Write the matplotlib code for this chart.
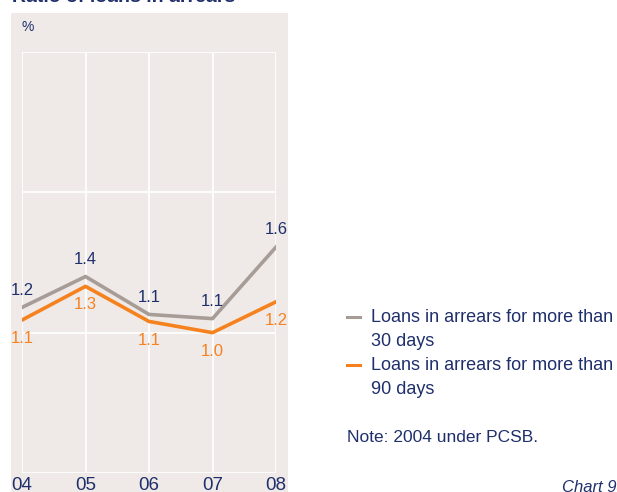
import matplotlib
matplotlib.use("Agg")
import matplotlib.pyplot as plt
from matplotlib.patches import Rectangle
from matplotlib.lines import Line2D

plt.rcParams['font.family'] = ['Liberation Sans', 'DejaVu Sans']

years = ["04", "05", "06", "07", "08"]
arrears_30 = [1.18, 1.40, 1.13, 1.10, 1.61]
arrears_90 = [1.09, 1.33, 1.08, 1.00, 1.22]
series_labels = ["Loans in arrears for more than\n30 days",
                 "Loans in arrears for more than\n90 days"]

NAVY = "#1f2f6b"
GREY = "#a89c96"
ORANGE = "#f5821f"
PANEL = "#efeae8"

fig = plt.figure(figsize=(6.17, 4.92), dpi=100)
W, H = 617, 492


def fx(px):
    return px / W


def fy(py):
    return 1 - py / H


# shaded panel behind the chart
fig.patches.append(Rectangle((fx(11), 0), fx(288 - 11), (H - 13) / H,
                             transform=fig.transFigure, facecolor=PANEL,
                             edgecolor="none", zorder=-10))

fig.text(fx(12), 1.0 + 3 / H, "Ratio of loans in arrears", color=NAVY,
         fontsize=14, fontweight="bold", va="center", ha="left")

ax = fig.add_axes([fx(22), fy(473), fx(276 - 22), (473 - 52) / H])
ax.patch.set_alpha(0)
x = list(range(len(years)))
ax.set_xlim(0, len(years) - 1)
ax.set_ylim(0, 3)
ax.set_yticks([0, 1, 2, 3])
ax.set_xticks(x)
ax.grid(True, color="white", linewidth=1.3)
ax.set_axisbelow(True)
for s in ax.spines.values():
    s.set_visible(False)
ax.tick_params(length=0, labelleft=False, labelbottom=False)

ax.plot(x, arrears_30, color=GREY, linewidth=2.6, zorder=3)
ax.plot(x, arrears_90, color=ORANGE, linewidth=2.6, zorder=3)

for xi, v in zip(x, arrears_30):
    ax.annotate(f"{v:.1f}", (xi, v), xytext=(0, 7), textcoords="offset points",
                ha="center", va="bottom", color=NAVY, fontsize=12,
                annotation_clip=False)
for xi, v in zip(x, arrears_90):
    ax.annotate(f"{v:.1f}", (xi, v), xytext=(0, -8), textcoords="offset points",
                ha="center", va="top", color=ORANGE, fontsize=12,
                annotation_clip=False)

for xi, lab in zip(x, years):
    ax.annotate(lab, (xi, 0), xytext=(0, -3), textcoords="offset points",
                ha="center", va="top", color=NAVY, fontsize=13.5,
                annotation_clip=False)

fig.text(fx(22), fy(27), "%", color=NAVY, fontsize=10, va="center", ha="left")

# legend drawn by hand: short line key beside the first line of each label
legend_colors = [GREY, ORANGE]
for i, (lab, col) in enumerate(zip(series_labels, legend_colors)):
    yc = 317 + i * 48
    fig.add_artist(Line2D([fx(347), fx(360)], [fy(yc), fy(yc)],
                          transform=fig.transFigure, color=col, linewidth=2.2))
    first, second = lab.split("\n")
    fig.text(fx(371), fy(yc), first, color=NAVY, fontsize=13,
             va="center", ha="left")
    fig.text(fx(371), fy(yc + 24), second, color=NAVY, fontsize=13,
             va="center", ha="left")

fig.text(fx(347), fy(438), "Note: 2004 under PCSB.", color=NAVY,
         fontsize=12.5, va="center", ha="left")
fig.text(fx(562), fy(487), "Chart 9a", color=NAVY, fontsize=12,
         style="italic", va="center", ha="left")

fig.savefig("out.png", dpi=100)
